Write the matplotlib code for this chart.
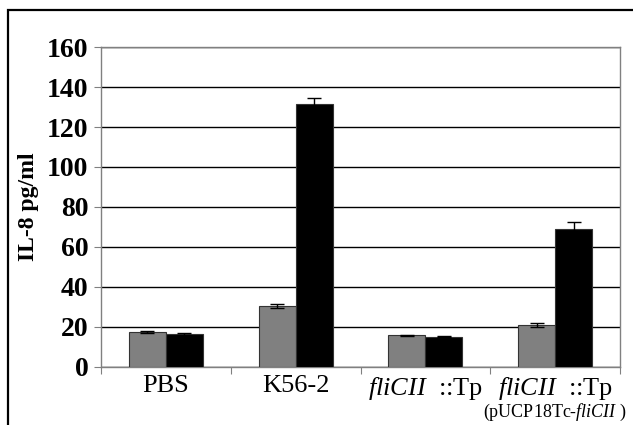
import matplotlib.pyplot as plt
import matplotlib.patches as patches
import numpy as np

plt.rcParams['font.family'] = 'Liberation Serif'
plt.rcParams['mathtext.fontset'] = 'custom'
plt.rcParams['mathtext.rm'] = 'Liberation Serif'
plt.rcParams['mathtext.it'] = 'Liberation Serif:italic'

# data
groups = ['PBS', 'K56-2', r'$\mathit{fliCII}\ $ ::Tp', r'$\mathit{fliCII}\ $ ::Tp']
gray_vals = [17.5, 30.5, 15.8, 21.0]
gray_err = [0.7, 0.9, 0.3, 0.8]
black_vals = [16.3, 131.5, 15.2, 69.0]
black_err = [0.5, 3.0, 0.2, 3.5]
yticks = [0, 20, 40, 60, 80, 100, 120, 140, 160]

fig = plt.figure(figsize=(6.33, 4.25), dpi=100)
ax = fig.add_axes([0.1596, 0.1365, 0.8199, 0.7529])

x = np.arange(len(groups))
w = 0.285
ax.bar(x - w/2, gray_vals, w, color='#808080', edgecolor='#333333', linewidth=0.8,
       yerr=gray_err, capsize=5, error_kw=dict(ecolor='black', elinewidth=1, capthick=1), zorder=3)
ax.bar(x + w/2, black_vals, w, color='black', edgecolor='#333333', linewidth=0.8,
       yerr=black_err, capsize=5, error_kw=dict(ecolor='black', elinewidth=1, capthick=1), zorder=3)

ax.set_xlim(-0.5, len(groups) - 0.5)
ax.set_ylim(0, 160)
ax.set_yticks(yticks)
ax.set_yticklabels([str(v) for v in yticks], fontsize=20, fontweight='bold')
ax.yaxis.grid(True, color='black', linewidth=1)
ax.set_axisbelow(True)

# category tick marks at the boundaries, labels at the centres
ax.set_xticks(np.arange(len(groups) + 1) - 0.5)
ax.set_xticklabels([])
ax.set_xticks(x, minor=True)
ax.set_xticklabels(groups, minor=True, fontsize=19)
ax.tick_params(axis='x', which='major', length=5, color='#808080')
ax.tick_params(axis='x', which='minor', length=0, pad=6)
ax.tick_params(axis='y', length=5, color='#808080', pad=4)

for s in ['left', 'bottom', 'right', 'top']:
    ax.spines[s].set_color('#808080')
    ax.spines[s].set_linewidth(1)

ax.text(3, -0.11, r'(pUCP18Tc-$\mathit{fliCII}\ $)', transform=ax.get_xaxis_transform(),
        ha='center', va='top', fontsize=13)

ax.set_ylabel('IL-8 pg/ml', fontsize=17, fontweight='bold', labelpad=6)

# outer frame around the figure
frame = patches.Rectangle((8/633, -0.1), 1.0, (415/425) + 0.1, transform=fig.transFigure,
                          fill=False, edgecolor='black', linewidth=1.6)
fig.patches.append(frame)

fig.savefig('out.png', dpi=100)
